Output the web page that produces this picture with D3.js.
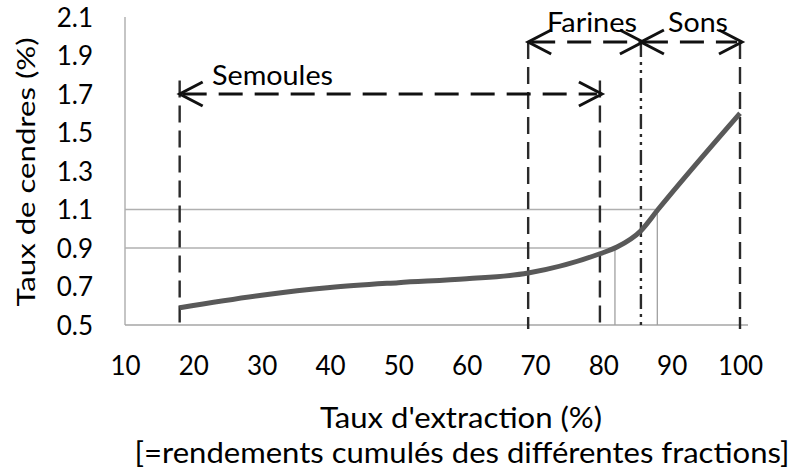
<!DOCTYPE html>
<html>
<head>
<meta charset="utf-8">
<script src="https://cdn.jsdelivr.net/npm/d3@7"></script>
<style>
  body { margin: 0; background: #fff; }
  text { font-family: Lato, "Open Sans", sans-serif; fill: #000; }
</style>
</head>
<body>
<div id="chart_area"></div>
<script>
// Data.
var extraction = [18, 30, 40, 50, 60, 69, 79.5, 82, 85.5, 88, 100];
var ashRate = [0.59, 0.655, 0.695, 0.72, 0.74, 0.77, 0.87, 0.905, 0.99, 1.1, 1.6];

var xTicks = [10, 20, 30, 40, 50, 60, 70, 80, 90, 100];
var yTicks = [0.5, 0.7, 0.9, 1.1, 1.3, 1.5, 1.7, 1.9, 2.1];

// reading guides: ash level and where it meets the curve
var guideAsh = [0.9, 1.1];
var guideExtraction = [81.7, 87.9];

// fractions
var fractionNames = ["Semoules", "Farines", "Sons"];
var fractionStart = [18, 69, 85.5];
var fractionEnd = [79.5, 85.5, 100];
var fractionLevel = [1.7, 1.97, 1.97];

// vertical limit lines
var limitX = [18, 69, 79.5, 85.5, 100];
var limitTop = [1.77, 1.97, 1.77, 1.97, 1.97];
var limitStyle = ["dash", "dash", "dash", "dashdot", "dash"];

var frame_width = 794, frame_height = 472;
var svg = d3.select("#chart_area").append("svg")
	.attr("width", frame_width)
	.attr("height", frame_height);

var xScale = d3.scaleLinear().domain([10, 100]).range([125, 740]);
var yScale = d3.scaleLinear().domain([0.5, 2.1]).range([325, 17]);

// axes lines (no tick marks in the original)
svg.append("line")
	.attr("x1", xScale(10)).attr("x2", 748)
	.attr("y1", yScale(0.5)).attr("y2", yScale(0.5))
	.style("stroke", "#a6a6a6").style("stroke-width", 1.3);
svg.append("line")
	.attr("x1", xScale(10)).attr("x2", xScale(10))
	.attr("y1", yScale(2.1)).attr("y2", yScale(0.5))
	.style("stroke", "#a6a6a6").style("stroke-width", 1.3);

// tick labels
var xAxis = d3.axisBottom(xScale).tickValues(xTicks).tickSize(0).tickPadding(0)
	.tickFormat(d3.format("d"));
var gx = svg.append("g")
	.attr("transform", "translate(0," + yScale(0.5) + ")")
	.call(xAxis);
gx.select(".domain").remove();
gx.selectAll("text")
	.attr("y", 50).attr("dy", 0)
	.style("font-size", "26px").style("font-family", "Lato, sans-serif").style("fill", "#000");

var yAxis = d3.axisLeft(yScale).tickValues(yTicks).tickSize(0).tickPadding(0)
	.tickFormat(d3.format(".1f"));
var gy = svg.append("g")
	.attr("transform", "translate(" + 93 + ",0)")
	.call(yAxis);
gy.select(".domain").remove();
gy.selectAll("text")
	.attr("x", 0).attr("dy", "0.36em")
	.style("font-size", "26px").style("font-family", "Lato, sans-serif").style("fill", "#000");

// grey guides
guideAsh.forEach(function(a, i) {
	svg.append("line")
		.attr("x1", xScale(10)).attr("x2", xScale(guideExtraction[i]))
		.attr("y1", yScale(a)).attr("y2", yScale(a))
		.style("stroke", "#b0b0b0").style("stroke-width", 1.3);
	svg.append("line")
		.attr("x1", xScale(guideExtraction[i])).attr("x2", xScale(guideExtraction[i]))
		.attr("y1", yScale(a)).attr("y2", yScale(0.5))
		.style("stroke", "#a0a0a0").style("stroke-width", 1.3);
});

// vertical limits
limitX.forEach(function(x, i) {
	svg.append("line")
		.attr("x1", xScale(x)).attr("x2", xScale(x))
		.attr("y1", yScale(limitTop[i])).attr("y2", yScale(0.5) + 4)
		.style("stroke", "#2a2a2a").style("stroke-width", 2.4)
		.style("stroke-dasharray", limitStyle[i] == "dash" ? "17,8" : "15,5,3,5,3,5");
});

// the curve
var line = d3.line()
	.x(function(d) { return xScale(d[0]); })
	.y(function(d) { return yScale(d[1]); })
	.curve(d3.curveMonotoneX);
svg.append("path")
	.datum(d3.zip(extraction, ashRate))
	.attr("d", line)
	.style("fill", "none")
	.style("stroke", "#595959")
	.style("stroke-width", 5)
	.style("stroke-linejoin", "round");

// fraction arrows
function arrowHead(x, y, dir) {
	var p = "M " + (x + dir * 23) + " " + (y - 12) + " L " + x + " " + y + " L " + (x + dir * 23) + " " + (y + 12);
	svg.append("path").attr("d", p)
		.style("fill", "none").style("stroke", "#111").style("stroke-width", 3);
}
fractionNames.forEach(function(name, i) {
	var x0 = xScale(fractionStart[i]), x1 = xScale(fractionEnd[i]), y = yScale(fractionLevel[i]);
	svg.append("line")
		.attr("x1", x0 + 3).attr("x2", x1 - 3)
		.attr("y1", y).attr("y2", y)
		.style("stroke", "#111").style("stroke-width", 3)
		.style("stroke-dasharray", "24,12");
	arrowHead(x0, y, 1);
	arrowHead(x1 + 2, y, -1);
});

// fraction labels
svg.append("text").attr("x", 212).attr("y", yScale(1.7) - 9)
	.attr("textLength", 121).attr("lengthAdjust", "spacingAndGlyphs")
	.style("font-size", "26px").text("Semoules");
svg.append("text").attr("x", 547).attr("y", yScale(1.97) - 10)
	.attr("textLength", 90).attr("lengthAdjust", "spacingAndGlyphs")
	.style("font-size", "26px").text("Farines");
svg.append("text").attr("x", 668).attr("y", yScale(1.97) - 10)
	.attr("textLength", 60).attr("lengthAdjust", "spacingAndGlyphs")
	.style("font-size", "26px").text("Sons");

// axis titles
svg.append("text")
	.attr("transform", "translate(35,172) rotate(-90)")
	.attr("text-anchor", "middle")
	.attr("textLength", 269).attr("lengthAdjust", "spacingAndGlyphs")
	.style("font-size", "25px")
	.text("Taux de cendres (%)");
svg.append("text")
	.attr("x", 461).attr("y", 428)
	.attr("text-anchor", "middle")
	.attr("textLength", 282).attr("lengthAdjust", "spacingAndGlyphs")
	.style("font-size", "28px")
	.text("Taux d'extraction (%)");
svg.append("text")
	.attr("x", 462).attr("y", 463)
	.attr("text-anchor", "middle")
	.attr("textLength", 655).attr("lengthAdjust", "spacingAndGlyphs")
	.style("font-size", "28px")
	.text("[=rendements cumulés des différentes fractions]");
</script>
</body>
</html>
